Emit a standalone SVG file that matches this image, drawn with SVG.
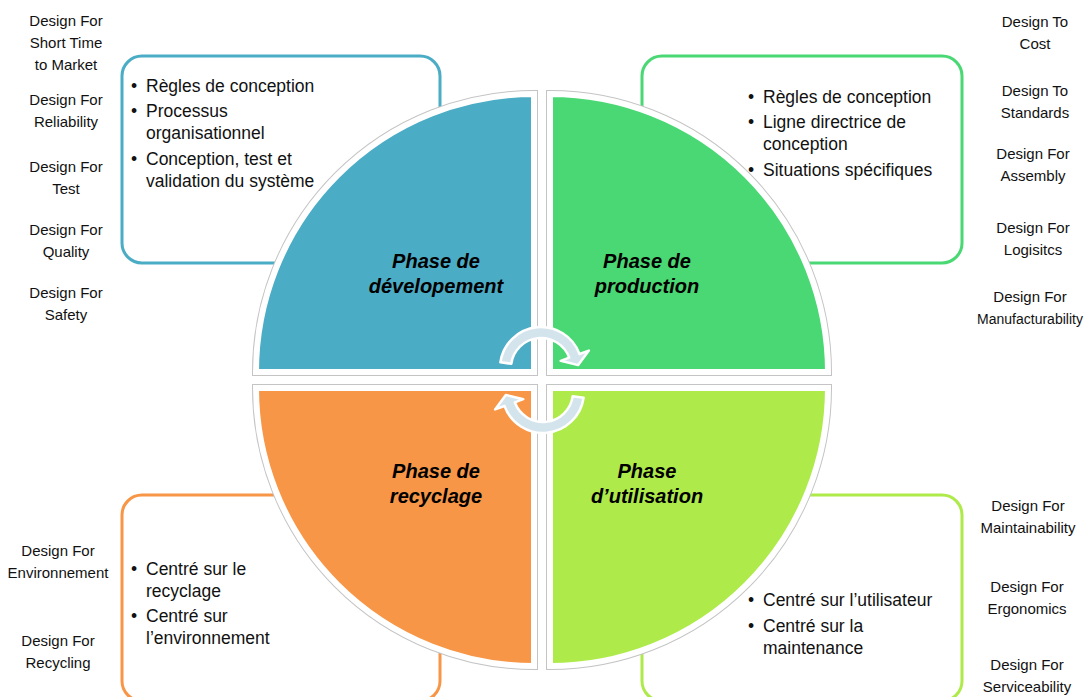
<svg xmlns="http://www.w3.org/2000/svg" width="1084" height="697" viewBox="0 0 1084 697">
<style>
.lbl{font-family:"Liberation Sans",Arial,sans-serif;font-size:15px;fill:#111;text-anchor:middle}
.bul{font-family:"Liberation Sans",Arial,sans-serif;font-size:17.5px;fill:#111}
.ph{font-family:"Liberation Sans",Arial,sans-serif;font-size:20px;font-weight:bold;font-style:italic;fill:#000;text-anchor:middle}
.box{fill:#fff;stroke-width:3}
.qo{fill:none;stroke:#c4c4c4;stroke-width:8}
.q{stroke:#fff;stroke-width:6}
.arr{fill:#d4e4ed;stroke:#fff;stroke-width:2.5;stroke-linejoin:round}
</style>
<defs>
<path id="cyc" d="M500.4,362.3 A41,41 0 0 1 579.5,354 L588.9,350.6 L578.2,365.1 L560.7,360.8 L569.2,357.7 A30,30 0 0 0 511.3,363.8 Z"/>
</defs>
<rect width="1084" height="697" fill="#fff"/>
<g id="box-dev"><rect class="box" x="122" y="56" width="318" height="207" rx="20" stroke="#4bacc6"/>
<text class="bul"><tspan x="131" y="92">•</tspan><tspan x="146" y="92">Règles de conception</tspan><tspan x="131" y="117">•</tspan><tspan x="146" y="117">Processus</tspan><tspan x="146" y="139">organisationnel</tspan><tspan x="131" y="165">•</tspan><tspan x="146" y="165">Conception, test et</tspan><tspan x="146" y="187">validation du système</tspan></text></g>
<g id="box-prod"><rect class="box" x="642" y="56" width="320" height="207" rx="20" stroke="#49d873"/>
<text class="bul"><tspan x="748" y="103">•</tspan><tspan x="763" y="103">Règles de conception</tspan><tspan x="748" y="128">•</tspan><tspan x="763" y="128">Ligne directrice de</tspan><tspan x="763" y="150">conception</tspan><tspan x="748" y="176">•</tspan><tspan x="763" y="176">Situations spécifiques</tspan></text></g>
<g id="box-rec"><rect class="box" x="122" y="495" width="318" height="206" rx="20" stroke="#f79646"/>
<text class="bul"><tspan x="131" y="575">•</tspan><tspan x="146" y="575">Centré sur le</tspan><tspan x="146" y="597">recyclage</tspan><tspan x="131" y="622">•</tspan><tspan x="146" y="622">Centré sur</tspan><tspan x="146" y="644">l’environnement</tspan></text></g>
<g id="box-util"><rect class="box" x="642" y="495" width="320" height="206" rx="20" stroke="#aeea4a"/>
<text class="bul"><tspan x="748" y="606">•</tspan><tspan x="763" y="606">Centré sur l’utilisateur</tspan><tspan x="748" y="632">•</tspan><tspan x="763" y="632">Centré sur la</tspan><tspan x="763" y="654">maintenance</tspan></text></g>
<g id="quadrants">
<path class="qo" d="M534,372 L256,372 A278,278 0 0 1 534,94 Z"/>
<path class="qo" d="M550,372 L550,94 A278,278 0 0 1 828,372 Z"/>
<path class="qo" d="M534,388 L534,666 A278,278 0 0 1 256,388 Z"/>
<path class="qo" d="M550,388 L828,388 A278,278 0 0 1 550,666 Z"/>
<path id="q-dev" class="q" fill="#4bacc6" d="M534,372 L256,372 A278,278 0 0 1 534,94 Z"/>
<path id="q-prod" class="q" fill="#49d873" d="M550,372 L550,94 A278,278 0 0 1 828,372 Z"/>
<path id="q-rec" class="q" fill="#f79646" d="M534,388 L534,666 A278,278 0 0 1 256,388 Z"/>
<path id="q-util" class="q" fill="#aeea4a" d="M550,388 L828,388 A278,278 0 0 1 550,666 Z"/>
</g>
<g id="phase-labels">
<text class="ph"><tspan x="436" y="268">Phase de</tspan><tspan x="436" y="293">dévelopement</tspan></text>
<text class="ph"><tspan x="647" y="268">Phase de</tspan><tspan x="647" y="293">production</tspan></text>
<text class="ph"><tspan x="436" y="478">Phase de</tspan><tspan x="436" y="503">recyclage</tspan></text>
<text class="ph"><tspan x="647" y="478">Phase</tspan><tspan x="647" y="503">d’utilisation</tspan></text>
</g>
<g id="connectors">
<use href="#cyc" class="arr"/>
<use href="#cyc" class="arr" transform="rotate(180 542 380)"/>
</g>
<g id="labels-left">
<text class="lbl"><tspan x="66" y="26">Design For</tspan><tspan x="66" y="48">Short Time</tspan><tspan x="66" y="70">to Market</tspan></text>
<text class="lbl"><tspan x="66" y="105">Design For</tspan><tspan x="66" y="127">Reliability</tspan></text>
<text class="lbl"><tspan x="66" y="172">Design For</tspan><tspan x="66" y="194">Test</tspan></text>
<text class="lbl"><tspan x="66" y="235">Design For</tspan><tspan x="66" y="257">Quality</tspan></text>
<text class="lbl"><tspan x="66" y="298">Design For</tspan><tspan x="66" y="320">Safety</tspan></text>
<text class="lbl"><tspan x="58" y="556">Design For</tspan><tspan x="58" y="578">Environnement</tspan></text>
<text class="lbl"><tspan x="58" y="646">Design For</tspan><tspan x="58" y="668">Recycling</tspan></text>
</g>
<g id="labels-right">
<text class="lbl"><tspan x="1035" y="27">Design To</tspan><tspan x="1035" y="49">Cost</tspan></text>
<text class="lbl"><tspan x="1035" y="96">Design To</tspan><tspan x="1035" y="118">Standards</tspan></text>
<text class="lbl"><tspan x="1033" y="159">Design For</tspan><tspan x="1033" y="181">Assembly</tspan></text>
<text class="lbl"><tspan x="1033" y="233">Design For</tspan><tspan x="1033" y="255">Logisitcs</tspan></text>
<text class="lbl"><tspan x="1030" y="302">Design For</tspan><tspan x="1030" y="324" font-size="14">Manufacturability</tspan></text>
<text class="lbl"><tspan x="1028" y="511">Design For</tspan><tspan x="1028" y="533">Maintainability</tspan></text>
<text class="lbl"><tspan x="1027" y="592">Design For</tspan><tspan x="1027" y="614">Ergonomics</tspan></text>
<text class="lbl"><tspan x="1027" y="670">Design For</tspan><tspan x="1027" y="692">Serviceability</tspan></text>
</g>
</svg>
